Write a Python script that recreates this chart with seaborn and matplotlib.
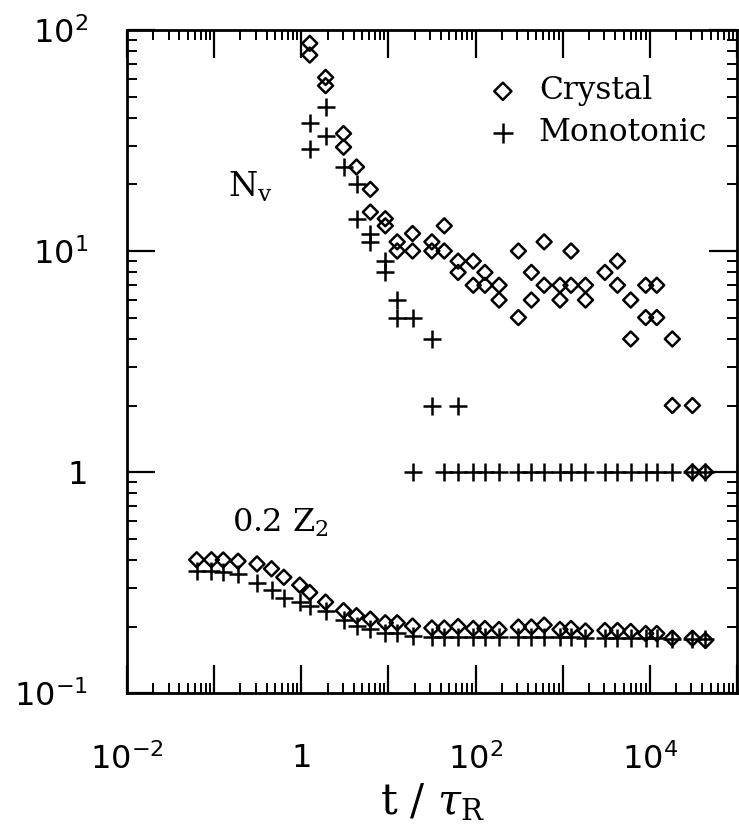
import numpy as np
import pandas as pd
import matplotlib
matplotlib.use("Agg")
import matplotlib.pyplot as plt
import matplotlib.ticker as mticker
import seaborn as sns

# shared sampling times t / tau_R
times = [0.063, 0.093, 0.127, 0.188, 0.31, 0.455, 0.63, 0.96, 1.25, 1.9, 3.05, 4.3,
         6.2, 9.2, 12.6, 18.9, 31.5, 43.7, 63, 94, 128, 186, 310, 437, 612, 930,
         1245, 1825, 3050, 4250, 6030, 8960, 12000, 18100, 30800, 43400]

# 0.2 Z2, one value per time
z2_crystal = [0.401, 0.401, 0.400, 0.395, 0.384, 0.365, 0.334, 0.308, 0.285, 0.258,
              0.236, 0.224, 0.216, 0.208, 0.208, 0.201, 0.197, 0.197, 0.200, 0.196,
              0.196, 0.194, 0.199, 0.199, 0.203, 0.194, 0.196, 0.191, 0.192, 0.192,
              0.190, 0.186, 0.186, 0.177, 0.177, 0.173]
z2_mono = [0.355, 0.355, 0.354, 0.344, 0.315, 0.293, 0.270, 0.259, 0.248, 0.234,
           0.213, 0.202, 0.195, 0.186, 0.186, 0.181, 0.179, 0.179, 0.179, 0.179,
           0.179, 0.179, 0.179, 0.179, 0.179, 0.179, 0.179, 0.178, 0.178, 0.178,
           0.178, 0.178, 0.177, 0.176, 0.176, 0.175]

# N_v, several samples per time
nv_crystal_t = [1.25, 1.25, 1.9, 1.9, 3.05, 3.05, 4.3, 6.2, 6.2, 9.2, 9.2, 12.6, 12.6,
                18.9, 18.9, 31.5, 31.5, 43.7, 43.7, 63, 63, 94, 94, 128, 128, 186, 186,
                310, 310, 437, 437, 612, 612, 930, 930, 1245, 1245, 1825, 1825, 3050,
                4250, 4250, 6030, 6030, 8960, 8960, 12000, 12000, 18100, 18100,
                30800, 30800, 43400]
nv_crystal = [87, 77, 61, 56, 34, 29.5, 24, 19, 15, 14, 13, 11, 10,
              12, 10, 11, 10, 13, 10, 9, 8, 9, 7, 8, 7, 7, 6,
              10, 5, 8, 6, 11, 7, 7, 6, 10, 7, 7, 6, 8,
              9, 7, 6, 4, 7, 5, 7, 5, 4, 2,
              2, 1, 1]

nv_mono_t = [1.25, 1.25, 1.9, 1.9, 3.05, 4.3, 4.3, 6.2, 6.2, 9.2, 9.2, 12.6, 12.6,
             18.9, 31.5, 31.5, 63,
             18.9, 43.7, 63, 94, 128, 186, 310, 437, 612, 930, 1245, 1825, 3050,
             4250, 6030, 8960, 12000, 18100, 30800, 43400]
nv_mono = [38, 29, 45, 33, 24, 20, 14, 12, 11, 9, 8, 6, 5,
           5, 4, 2, 2,
           1, 1, 1, 1, 1, 1, 1, 1, 1, 1, 1, 1, 1,
           1, 1, 1, 1, 1, 1, 1]

crystal = pd.DataFrame({"t": times + nv_crystal_t, "v": z2_crystal + nv_crystal})
mono = pd.DataFrame({"t": times + nv_mono_t, "v": z2_mono + nv_mono})

sns.set_theme(style="ticks")
plt.rcParams["font.family"] = ["DejaVu Serif"]
plt.rcParams["mathtext.fontset"] = "dejavuserif"
plt.rcParams["axes.linewidth"] = 2.0
plt.rcParams["axes.edgecolor"] = "black"
plt.rcParams["text.color"] = "black"
plt.rcParams["xtick.color"] = "black"
plt.rcParams["ytick.color"] = "black"
plt.rcParams["axes.labelcolor"] = "black"

fig = plt.figure(figsize=(7.39, 8.31), dpi=100)
ax = fig.add_axes([0.1719, 0.166, 0.8254, 0.7979])

sns.scatterplot(data=crystal, x="t", y="v", ax=ax, marker="D", s=58,
                facecolor="none", edgecolor="black", linewidth=1.8,
                label="Crystal")
sns.scatterplot(data=mono, x="t", y="v", ax=ax, marker="+", s=150,
                color="black", linewidth=1.8, label="Monotonic")

ax.set_xscale("log")
ax.set_yscale("log")
ax.set_xlim(1e-2, 1e5)
ax.set_ylim(1e-1, 1e2)


def xfmt(v, pos):
    e = int(round(np.log10(v)))
    if e % 2:
        return ""
    if e == 0:
        return "1"
    return r"$\mathregular{10^{%d}}$" % e


def yfmt(v, pos):
    e = int(round(np.log10(v)))
    if e == 0:
        return "1"
    return r"$\mathregular{10^{%d}}$" % e


ax.xaxis.set_major_locator(mticker.LogLocator(base=10, numticks=20))
ax.xaxis.set_minor_locator(mticker.LogLocator(base=10, subs=range(2, 10), numticks=20))
ax.yaxis.set_major_locator(mticker.LogLocator(base=10, numticks=20))
ax.yaxis.set_minor_locator(mticker.LogLocator(base=10, subs=range(2, 10), numticks=20))
ax.xaxis.set_major_formatter(mticker.FuncFormatter(xfmt))
ax.yaxis.set_major_formatter(mticker.FuncFormatter(yfmt))
ax.xaxis.set_minor_formatter(mticker.NullFormatter())
ax.yaxis.set_minor_formatter(mticker.NullFormatter())

ax.tick_params(which="both", direction="in", top=True, right=True, color="black")
ax.tick_params(which="major", length=20, width=1.6)
ax.tick_params(which="minor", length=7, width=1.4)
ax.tick_params(axis="x", which="major", pad=36, labelsize=23)
ax.tick_params(axis="y", which="major", pad=28, labelsize=23)
for lab in ax.get_xticklabels() + ax.get_yticklabels():
    lab.set_family("DejaVu Sans")

ax.set_xlabel(r"t / $\tau_\mathregular{R}$", fontsize=30, labelpad=4,
              fontfamily="DejaVu Serif")
ax.set_ylabel("")

ax.text(0.166, 0.748, r"N$_\mathregular{v}$", transform=ax.transAxes, fontsize=24)
ax.text(0.172, 0.243, r"0.2 Z$_\mathregular{2}$", transform=ax.transAxes, fontsize=23)

ax.legend(loc="upper left", bbox_to_anchor=(0.57, 0.955), frameon=False,
          fontsize=22.5, handlelength=0.8, handletextpad=0.75, labelspacing=0.35,
          borderpad=0, markerscale=1.15)

fig.savefig("out.png", dpi=100)
